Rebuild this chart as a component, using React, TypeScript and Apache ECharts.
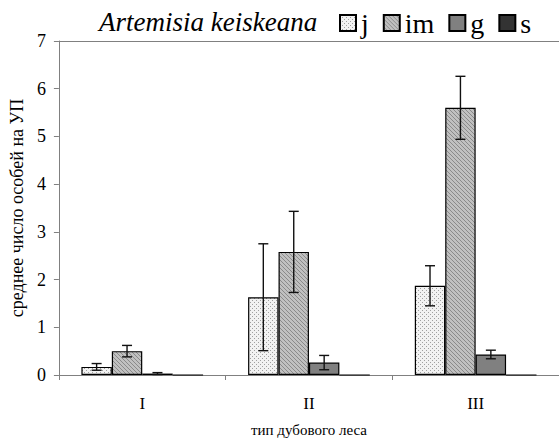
import React, { useEffect, useRef } from "react";
import * as echarts from "echarts";

const categories = ["I", "II", "III"];
const seriesNames = ["j", "im", "g", "s"];
const jValues = [0.17, 1.63, 1.87];
const jErrors = [0.07, 1.12, 0.42];
const imValues = [0.5, 2.58, 5.6];
const imErrors = [0.12, 0.85, 0.66];
const gValues = [0.03, 0.26, 0.43];
const gErrors = [0.02, 0.15, 0.09];
const sValues = [0, 0, 0];
const sErrors = [0, 0, 0];
const yMin = 0;
const yMax = 7;
const yStep = 1;

const FONT = "Liberation Serif, Times New Roman, serif";
const GAP = 0.27;

function makeTile(base: string, dot: string, pts: number[][]) {
  const c = document.createElement("canvas");
  c.width = 4;
  c.height = 4;
  const ctx = c.getContext("2d")!;
  ctx.fillStyle = base;
  ctx.fillRect(0, 0, 4, 4);
  ctx.fillStyle = dot;
  pts.forEach(([x, y]) => ctx.fillRect(x, y, 1, 1));
  return c;
}

export default function App() {
  const ref = useRef<HTMLDivElement>(null);
  useEffect(() => {
    if (!ref.current) return;
    document.body.style.margin = "0";
    const chart = echarts.init(ref.current, null, { renderer: "svg" });
    const jTile = makeTile("#f2f2f2", "#a0a0a0", [[0, 0], [2, 2]]);
    const imTile = makeTile("#c0c0c0", "#8a8a8a", [[0, 0], [1, 1], [2, 2], [3, 3]]);
    const fills: any[] = [
      { image: jTile, repeat: "repeat" },
      { image: imTile, repeat: "repeat" },
      "#808080",
      "#333333",
    ];
    const values = [jValues, imValues, gValues, sValues];
    const errors = [jErrors, imErrors, gErrors, sErrors];

    const barSeries = seriesNames.map((name, i) => ({
      name,
      type: "bar",
      data: values[i],
      barGap: "0%",
      barCategoryGap: (GAP * 100).toFixed(0) + "%",
      itemStyle: { color: fills[i], borderColor: "#000", borderWidth: 1.2 },
      emphasis: { disabled: true },
    }));

    const errSeries = seriesNames.map((name, i) => ({
      name: "err-" + name,
      type: "custom",
      data: values[i].map((v, k) => [k, v, errors[i][k]]),
      encode: { x: 0, y: 1 },
      z: 5,
      renderItem: (params: any, api: any) => {
        const cat = api.value(0);
        const v = api.value(1);
        const e = api.value(2);
        if (!e) return null;
        const center = api.coord([cat, v]);
        const band = api.size([1, 0])[0];
        const barW = (band * (1 - GAP)) / 4;
        const x = center[0] + (i - 1.5) * barW;
        const top = api.coord([cat, v + e])[1];
        const bot = api.coord([cat, Math.max(0, v - e)])[1];
        const cap = 5;
        const style = { stroke: "#111", lineWidth: 1.4 };
        return {
          type: "group",
          children: [
            { type: "line", shape: { x1: x, y1: top, x2: x, y2: bot }, style },
            { type: "line", shape: { x1: x - cap, y1: top, x2: x + cap, y2: top }, style },
            { type: "line", shape: { x1: x - cap, y1: bot, x2: x + cap, y2: bot }, style },
          ],
        };
      },
    }));

    chart.setOption({
      animation: false,
      backgroundColor: "#fff",
      title: {
        text: "Artemisia keiskeana",
        left: 94,
        top: 3,
        textStyle: {
          fontFamily: FONT,
          fontStyle: "italic",
          fontWeight: "normal",
          fontSize: 27,
          color: "#000",
        },
      },
      legend: {
        data: seriesNames,
        left: 334,
        top: 4,
        itemWidth: 16,
        itemHeight: 16,
        itemGap: 14,
        icon: "rect",
        selectedMode: false,
        textStyle: { fontFamily: FONT, fontSize: 28, color: "#000" },
      },
      grid: { left: 53, right: 0, top: 41, bottom: 62, containLabel: false },
      xAxis: [
        {
          type: "category",
          data: categories,
          name: "тип дубового леса",
          nameLocation: "middle",
          nameGap: 47,
          nameTextStyle: { fontFamily: FONT, fontSize: 15, color: "#000" },
          axisLine: { lineStyle: { color: "#808080", width: 1 } },
          axisTick: { show: true, length: 5, lineStyle: { color: "#808080" } },
          axisLabel: { fontFamily: FONT, fontSize: 17, color: "#000", margin: 20 },
        },
        {
          type: "category",
          data: categories,
          position: "top",
          axisLine: { show: true, lineStyle: { color: "#808080", width: 1 } },
          axisTick: { show: false },
          axisLabel: { show: false },
        },
      ],
      yAxis: {
        type: "value",
        min: yMin,
        max: yMax,
        interval: yStep,
        name: "среднее число особей на УП",
        nameLocation: "middle",
        nameGap: 29,
        nameTextStyle: { fontFamily: FONT, fontSize: 18, color: "#000" },
        axisLine: { show: true, lineStyle: { color: "#808080", width: 1 } },
        axisTick: { show: true, length: 5, lineStyle: { color: "#808080" } },
        axisLabel: { fontFamily: FONT, fontSize: 18, color: "#000", margin: 13 },
        splitLine: { show: false },
      },
      series: [...barSeries, ...errSeries],
    });
    return () => chart.dispose();
  }, []);
  return <div ref={ref} style={{ width: 559, height: 442 }} />;
}
